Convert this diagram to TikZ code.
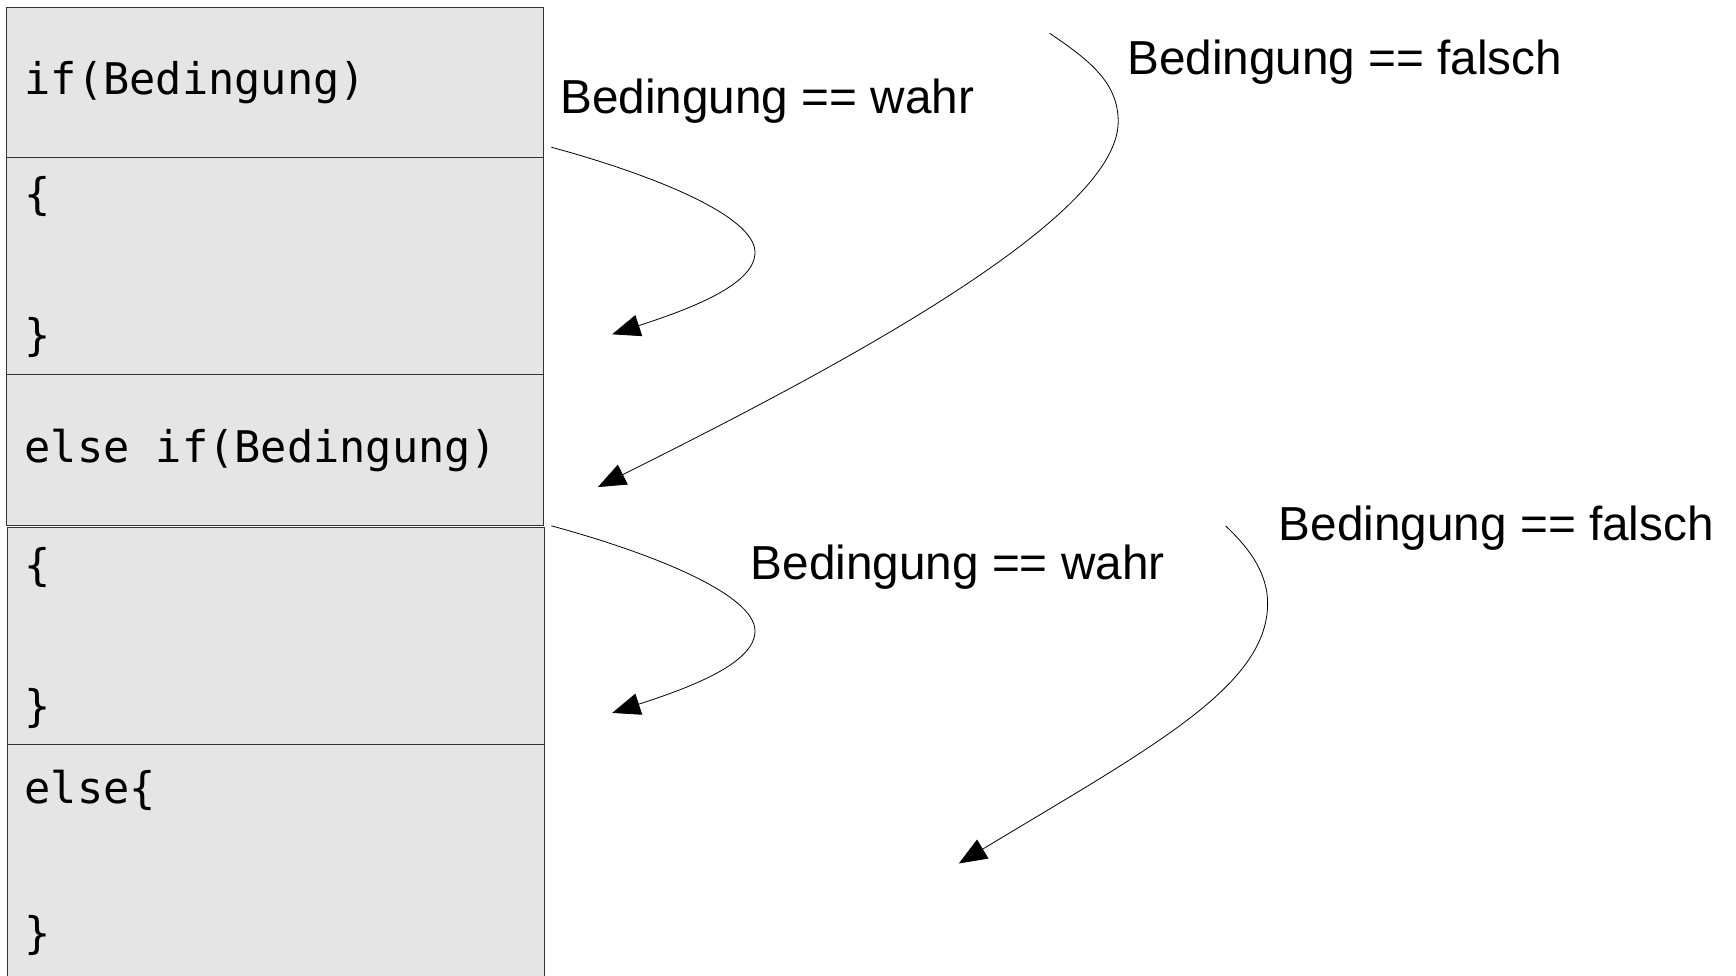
\documentclass[tikz,border=0pt]{standalone}
\usepackage{fontspec}
\setmainfont{Liberation Sans}
\newfontfamily\codefont{DejaVu Sans Mono}
\usetikzlibrary{arrows.meta}
\begin{document}
\begin{tikzpicture}[x=1pt,y=-1pt,
  box/.style={draw=black!80, line width=1pt, fill=black!10, minimum width=537pt, anchor=north west, inner sep=0pt},
  code/.style={anchor=west, inner sep=0pt, font=\codefont\fontsize{43.6}{52}\selectfont},
  lbl/.style={anchor=west, inner sep=0pt, font=\fontsize{47.7}{56}\selectfont},
  conn/.style={line width=0.8pt, -{Triangle[length=28pt,width=22pt]}}]
\fill[white] (0,0) rectangle (1736,975);
\useasboundingbox (0,0) rectangle (1736,975);

% boxes
\node[box, minimum height=150.6pt] (b1) at (5.5,6.6) {};
\node[box, minimum height=217pt] (b2) at (5.5,157.2) {};
\node[box, minimum height=150.6pt] (b3) at (5.5,374.2) {};
\node[box, minimum height=217pt] (b4) at (6.6,527) {};
\node[box, minimum height=236pt] (b5) at (6.6,744) {};

% code text
\node[code] (t1) at (24.4,83) {if(Bedingung)};
\node[code] (t2) at (24.4,196.5) {\{};
\node[code] (t3) at (24.4,337) {\}};
\node[code] (t4) at (24.4,450.5) {else if(Bedingung)};
\node[code] (t5) at (24.4,567.5) {\{};
\node[code] (t6) at (24.4,708) {\}};
\node[code] (t7) at (24.4,790) {else\{};
\node[code] (t8) at (24.4,935) {\}};

% labels
\node[lbl] (l1) at (560.2,101) {Bedingung == wahr};
\node[lbl] (l2) at (1127,62.3) {Bedingung == falsch};
\node[lbl] (l3) at (750.6,567) {Bedingung == wahr};
\node[lbl] (l4) at (1278.7,528.3) {Bedingung == falsch};

% connector end points
\coordinate (s1) at (551.3,147.2);
\coordinate (m1) at (755,252.4);
\coordinate (e1) at (612.2,334.3);
\coordinate (s2) at (1049.5,33.2);
\coordinate (m2) at (1118.2,121.8);
\coordinate (e2) at (597.8,487.1);
\coordinate (s3) at (551.3,525.8);
\coordinate (m3) at (755,631);
\coordinate (e3) at (612.2,712.9);
\coordinate (s4) at (1225.6,525.9);
\coordinate (m4) at (1267.6,603.4);
\coordinate (e4) at (958.8,863.5);

\draw[conn] (s1) .. controls (653.2,174.9) and (755,215.9) .. (m1)
                 .. controls (755,285.6) and (686.4,310) .. (e1);
\draw[conn] (s2) .. controls (1090.5,60.9) and (1118.2,83) .. (m2)
                 .. controls (1118.2,221.4) and (819.3,376.4) .. (e2);
\draw[conn] (s3) .. controls (653.2,553.5) and (755,594.5) .. (m3)
                 .. controls (755,664.2) and (686.4,688.6) .. (e3);
\draw[conn] (s4) .. controls (1245.5,544.7) and (1267.6,570.2) .. (m4)
                 .. controls (1267.6,686.4) and (1151.4,747.3) .. (e4);
\end{tikzpicture}
\end{document}
